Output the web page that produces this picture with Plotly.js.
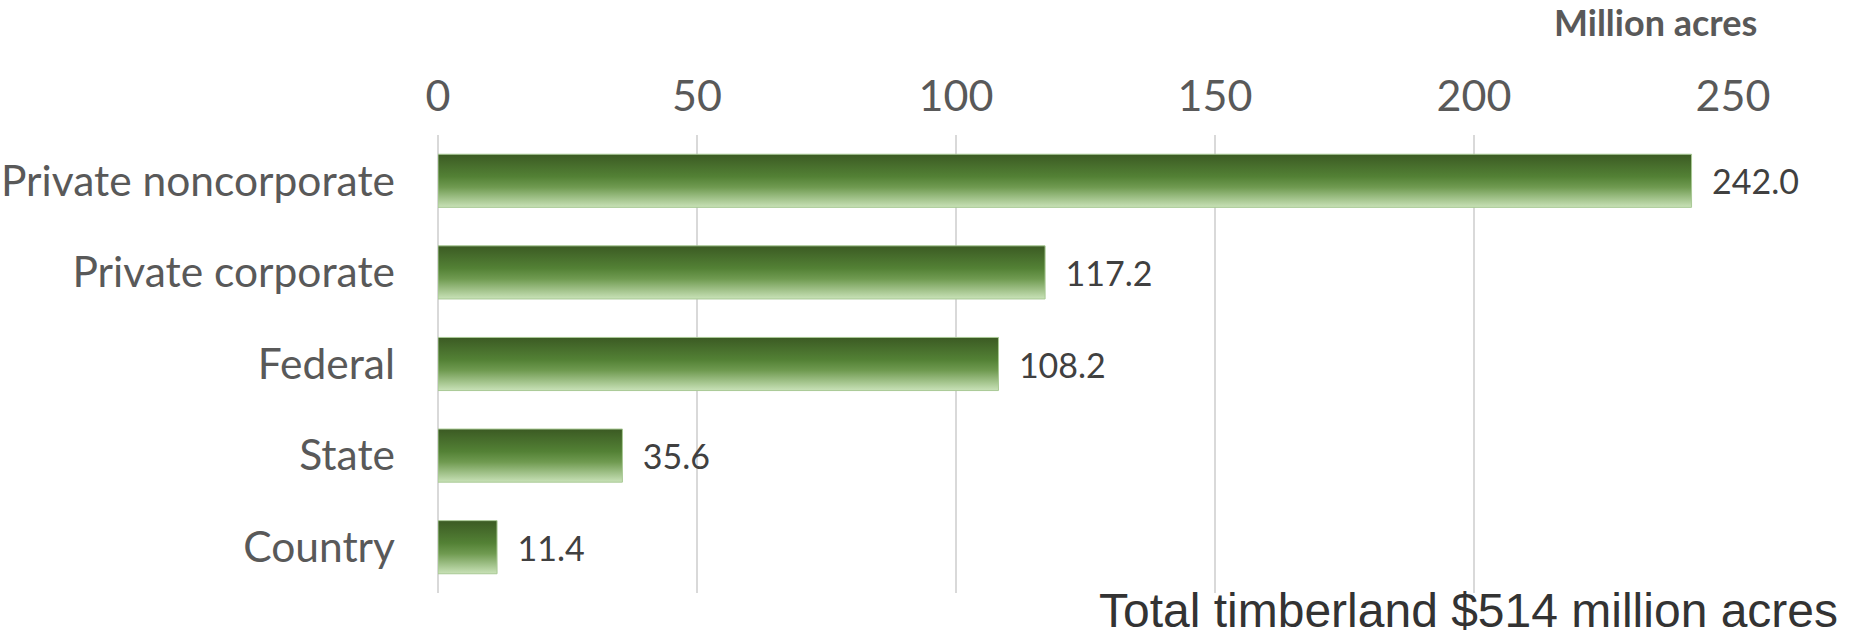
<!DOCTYPE html>
<html>
<head>
<meta charset="utf-8">
<script src="https://cdn.plot.ly/plotly-3.0.1.min.js"></script>
<style>
  html, body { margin: 0; padding: 0; background: #fff; }
  #chart { width: 1850px; height: 637px; }
</style>
</head>
<body>
<div id="chart"></div>
<script>
// Timberland ownership, million acres

var categories = ['Private noncorporate', 'Private corporate', 'Federal', 'State', 'Country'];
var acres = [242.0, 117.2, 108.2, 35.6, 11.4];
var tick_vals = [0, 50, 100, 150, 200, 250];
var axis_label = 'Million acres';
var footer_text = 'Total timberland $514 million acres';

var trace = {
  type: 'bar',
  orientation: 'h',
  x: acres,
  y: categories,
  marker: {
    color: '#548235',
    line: {color: '#a9c995', width: 1},
  },
  text: acres.map(function (v) { return '\u00a0\u00a0' + v.toFixed(1); }),
  textposition: 'outside',
  cliponaxis: false,
  textfont: {family: 'Lato, sans-serif', size: 34, color: '#404040'},
  hoverinfo: 'x+y',
};

var layout = {
  width: 1850,
  height: 637,
  paper_bgcolor: '#fff',
  plot_bgcolor: '#fff',
  showlegend: false,
  bargap: 0.42,
  margin: {t: 135, r: 117, l: 438, b: 44},
  font: {family: 'Lato, sans-serif', color: '#595959'},
  xaxis: {
    side: 'top',
    range: [0, 250],
    tickvals: tick_vals,
    showgrid: true,
    gridcolor: '#d9d9d9',
    gridwidth: 2,
    zeroline: true,
    zerolinecolor: '#d9d9d9',
    zerolinewidth: 2,
    showline: false,
    ticks: '',
    ticklabelstandoff: 14,
    tickfont: {family: 'Lato, sans-serif', size: 43, color: '#595959'},
    fixedrange: true,
  },
  yaxis: {
    type: 'category',
    categoryorder: 'array',
    categoryarray: categories,
    autorange: 'reversed',
    showgrid: false,
    zeroline: false,
    showline: false,
    ticks: '',
    ticklabelstandoff: 42,
    tickfont: {family: 'Lato, sans-serif', size: 42.5, color: '#595959'},
    fixedrange: true,
  },
  annotations: [
    {
      text: '<b>' + axis_label + '</b>',
      xref: 'paper', yref: 'paper',
      x: 1.02, y: 1, yshift: 113,
      xanchor: 'right', yanchor: 'middle',
      showarrow: false,
      font: {family: 'Lato, sans-serif', size: 36, color: '#595959'},
    },
    {
      text: footer_text,
      xref: 'paper', yref: 'paper',
      x: 1.083, y: 0, yshift: -17,
      xanchor: 'right', yanchor: 'middle',
      showarrow: false,
      font: {family: 'Liberation Sans, Arial, sans-serif', size: 48, color: '#333333'},
    },
  ],
};

var config = {
  responsive: false,
  displayModeBar: false,
  staticPlot: true,
};

// vertical gradient on bars: dark top, green middle, pale bottom
function paint_bars(gd) {
  var defs = gd.querySelector('.main-svg defs');
  if (!defs) return;
  if (!gd.querySelector('#barGrad')) {
    var ns = 'http://www.w3.org/2000/svg';
    var grad = document.createElementNS(ns, 'linearGradient');
    grad.setAttribute('id', 'barGrad');
    grad.setAttribute('x1', '0'); grad.setAttribute('y1', '0');
    grad.setAttribute('x2', '0'); grad.setAttribute('y2', '1');
    var stops = [[0, '#3b5a23'], [0.42, '#538135'], [0.62, '#6f9a50'], [1, '#c9e2b8']];
    stops.forEach(function (s) {
      var st = document.createElementNS(ns, 'stop');
      st.setAttribute('offset', s[0]);
      st.setAttribute('stop-color', s[1]);
      grad.appendChild(st);
    });
    defs.appendChild(grad);
  }
  gd.querySelectorAll('.barlayer .point path').forEach(function (p) {
    p.style.fill = 'url(#barGrad)';
  });
}

var gd = document.getElementById('chart');
Plotly.newPlot(gd, [trace], layout, config).then(function () {
  paint_bars(gd);
  gd.on('plotly_afterplot', function () { paint_bars(gd); });
});
</script>
</body>
</html>
